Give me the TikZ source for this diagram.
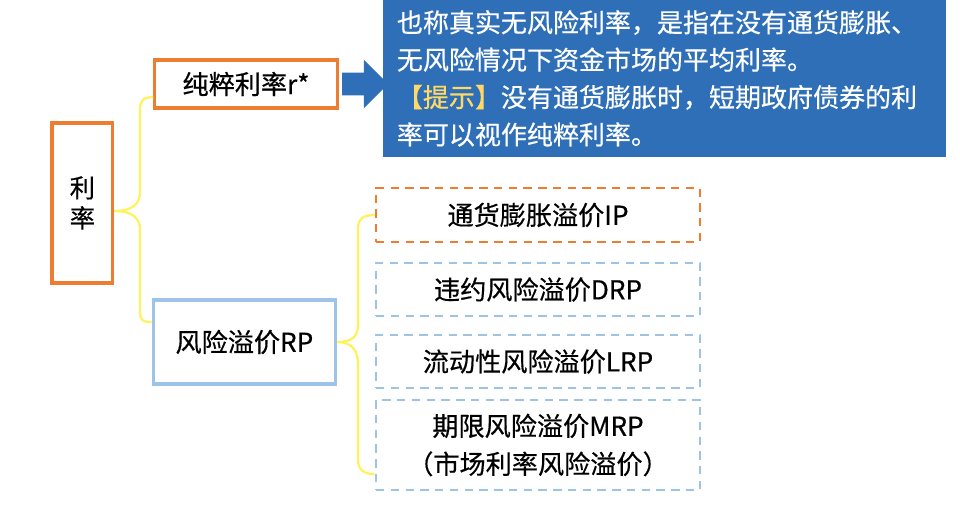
\documentclass[tikz,border=0pt]{standalone}
\usepackage{fontspec}
\setmainfont{Noto Sans CJK SC}[FakeBold=0.5]
\usepackage{xcolor}
\usepackage{tikz}
\usetikzlibrary{shapes.arrows}
\usetikzlibrary{positioning}

\definecolor{boxorange}{HTML}{ED7D31}
\definecolor{boxblue}{HTML}{9DC3E6}
\definecolor{noteblue}{HTML}{2E6FB7}
\definecolor{braceyellow}{HTML}{FFF25C}
\definecolor{tipyellow}{HTML}{FFD966}

\begin{document}
\begin{tikzpicture}[
  every node/.style={font=\fontsize{18.6}{27}\selectfont, inner sep=0pt, align=center},
  rootbox/.style={draw=boxorange, line width=2.2pt, minimum width=1.52cm, minimum height=4cm,
    font=\fontsize{18}{21.5}\selectfont},
  topicbox/.style={draw=#1, line width=2.2pt, minimum width=4.56cm},
  itembox/.style={draw=#1, line width=1.8pt, dash pattern=on 6pt off 4.5pt, minimum width=8.1cm},
  notebox/.style={fill=noteblue, text=white, align=left, text width=13.375cm, inner xsep=0.35cm,
    minimum height=3.925cm, font=\fontsize{18.5}{26.6}\selectfont},
  bigarrow/.style={single arrow, fill=noteblue, minimum height=1.15cm, inner ysep=0.275cm,
    single arrow head extend=0.325cm},
  brace/.style={draw=braceyellow, line width=1.6pt}
]
\useasboundingbox (0,0) rectangle (24,12.7);

\node[rootbox] (rate) at (2.06,7.625) {利\\率};
\node[topicbox=boxorange, minimum height=1.2cm] (pure) at (6.15,10.6) {纯粹利率r*};
\node[topicbox=boxblue, minimum height=2.1cm] (risk) at (6.11,4.15) {风险溢价RP};

\node[bigarrow, anchor=west] (arr) at ([xshift=0.08cm]pure.east) {};
\node[notebox] (note) at (16.61,10.74) {也称真实无风险利率，是指在没有通货膨胀、\\无风险情况下资金市场的平均利率。\\{\color{tipyellow}【提示】}没有通货膨胀时，短期政府债券的利\\率可以视作纯粹利率。};

\node[itembox=boxorange, minimum height=1.35cm] (ip) at (13.45,7.325) {通货膨胀溢价IP};
\node[itembox=boxblue, minimum height=1.325cm] (drp) at (13.45,5.4625) {违约风险溢价DRP};
\node[itembox=boxblue, minimum height=1.325cm] (lrp) at (13.45,3.6625) {流动性风险溢价LRP};
\node[itembox=boxblue, minimum height=2.25cm] (mrp) at (13.45,1.575) {期限风险溢价MRP\\（市场利率风险溢价）};

% braces
\coordinate (rate-tip) at ([yshift=-0.2cm]rate.east);
\coordinate (risk-tip) at (risk.east);
\draw[brace] (rate-tip) .. controls +(0.45,0) and +(0,-0.3) .. (3.5,7.9) -- (3.5,9.95)
  .. controls +(0,0.25) and +(-0.25,0) .. ([yshift=-0.33cm]pure.west);
\draw[brace] (rate-tip) .. controls +(0.45,0) and +(0,0.3) .. (3.5,6.95) -- (3.5,4.95)
  .. controls +(0,-0.25) and +(-0.25,0) .. ([yshift=0.5cm]risk.west);
\draw[brace] (risk-tip) .. controls +(0.4,0) and +(0,-0.3) .. (8.95,4.6) -- (8.95,7.0)
  .. controls +(0,0.25) and +(-0.25,0) .. (ip.west);
\draw[brace] (risk-tip) .. controls +(0.4,0) and +(0,0.3) .. (8.95,3.6) -- (8.95,1.2)
  .. controls +(0,-0.25) and +(-0.25,0) .. ([yshift=-0.73cm]mrp.west);
\end{tikzpicture}
\end{document}
